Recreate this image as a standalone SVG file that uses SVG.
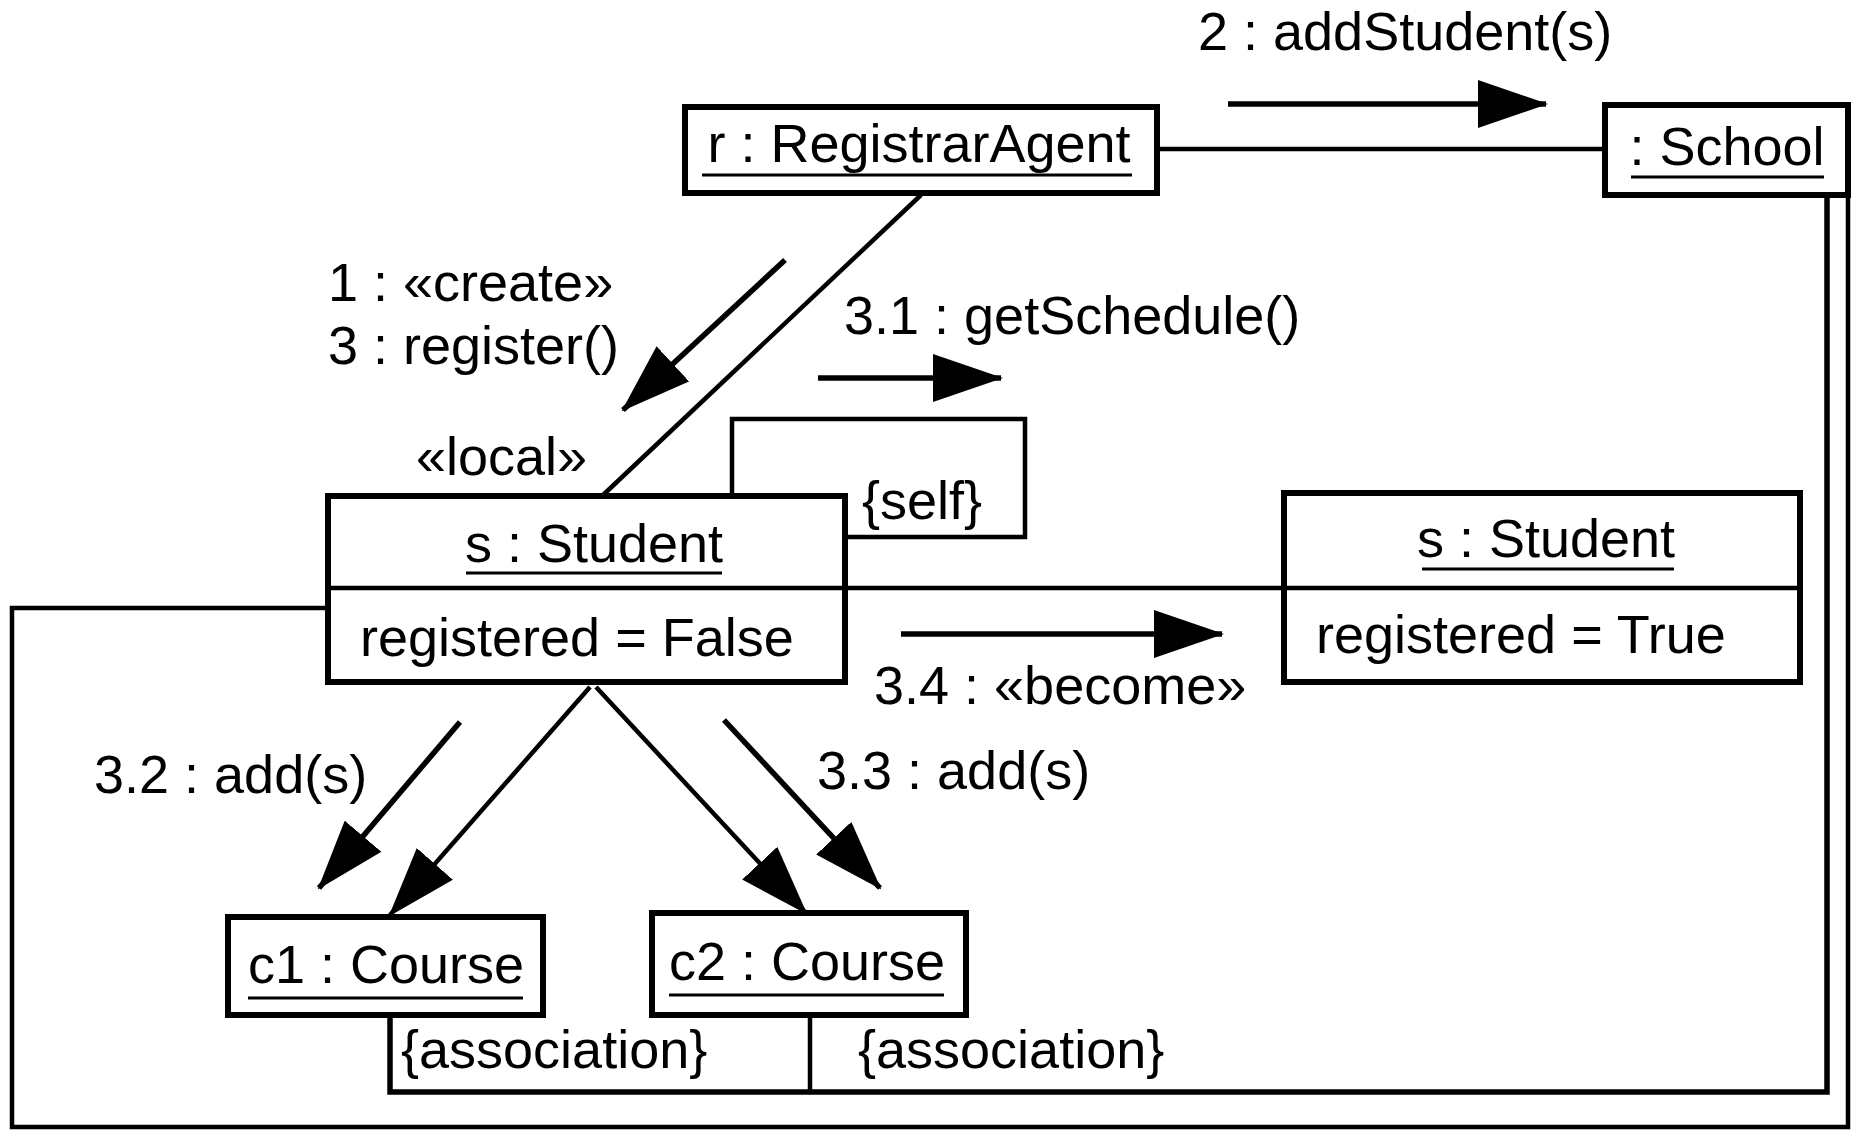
<svg xmlns="http://www.w3.org/2000/svg" width="1851" height="1131" viewBox="0 0 1851 1131">
<style>
  .box { fill: #fff; stroke: #000; stroke-width: 6; }
  .ln { fill: none; stroke: #000; stroke-width: 4.5; }
  .msg { fill: none; stroke: #000; stroke-width: 5.5; marker-end: url(#head); }
  .ul { stroke: #000; stroke-width: 3; }
  text { font-family: "Liberation Sans", Arial, sans-serif; font-size: 54px; fill: #000; }
  .mid { text-anchor: middle; }
</style>
<defs>
  <marker id="head" markerUnits="userSpaceOnUse" viewBox="0 0 70 48" refX="68" refY="24" markerWidth="70" markerHeight="48" orient="auto">
    <path d="M0,0 L70,24 L0,48 z" fill="#000"/>
  </marker>
</defs>
<rect width="1851" height="1131" fill="#fff"/>

<g id="connectors">
  <!-- RegistrarAgent - School -->
  <path class="ln" d="M1157,149 L1605,149"/>
  <!-- RegistrarAgent - Student -->
  <path class="ln" d="M921,195 L602,496"/>
  <!-- self link -->
  <path class="ln" d="M732,496 L732,419 L1025,419 L1025,537 L845,537"/>
  <!-- Student - Student (become) -->
  <path class="ln" d="M845,588 L1284,588"/>
  <!-- Student - c1, Student - c2 -->
  <path class="msg" style="stroke-width:4.5" d="M590,687 L390,915"/>
  <path class="msg" style="stroke-width:4.5" d="M596,687 L806,913"/>
  <!-- c1, c2 associations to School -->
  <path class="ln" style="stroke-width:5.5" d="M390,1015 L390,1092 L1827,1092 L1827,195"/>
  <path class="ln" d="M810,1015 L810,1092"/>
  <!-- outer frame Student - School -->
  <path class="ln" d="M328,608 L12,608 L12,1127 L1848,1127 L1848,195"/>

  <!-- message arrows -->
  <path class="msg" d="M1228,104 L1546,104"/>
  <path class="msg" d="M785,260 L623,410"/>
  <path class="msg" d="M818,378 L1001,378"/>
  <path class="msg" d="M901,634 L1222,634"/>
  <path class="msg" d="M460,722 L319,888"/>
  <path class="msg" d="M724,720 L880,888"/>

  <text x="1198" y="50">2 : addStudent(s)</text>
  <text x="328" y="301">1 : «create»</text>
  <text x="328" y="364">3 : register()</text>
  <text x="844" y="334">3.1 : getSchedule()</text>
  <text x="416" y="475">«local»</text>
  <text x="862" y="519">{self}</text>
  <text x="874" y="704">3.4 : «become»</text>
  <text x="94" y="793">3.2 : add(s)</text>
  <text x="817" y="789">3.3 : add(s)</text>
  <text x="401" y="1068">{association}</text>
  <text x="858" y="1068">{association}</text>
</g>

<g id="registrarAgent">
  <rect class="box" x="685" y="107" width="472" height="86"/>
  <text class="mid" x="919" y="162">r : RegistrarAgent</text>
  <line class="ul" x1="702" y1="175" x2="1132" y2="175"/>
</g>

<g id="school">
  <rect class="box" x="1605" y="105" width="243" height="90"/>
  <text class="mid" x="1727" y="165">: School</text>
  <line class="ul" x1="1631" y1="177" x2="1824" y2="177"/>
</g>

<g id="studentFalse">
  <rect class="box" x="328" y="496" width="517" height="186"/>
  <line class="ul" style="stroke-width:4.5" x1="328" y1="588" x2="845" y2="588"/>
  <text class="mid" x="594" y="562">s : Student</text>
  <line class="ul" x1="466" y1="573" x2="722" y2="573"/>
  <text x="360" y="656">registered = False</text>
</g>

<g id="studentTrue">
  <rect class="box" x="1284" y="493" width="516" height="189"/>
  <line class="ul" style="stroke-width:4.5" x1="1284" y1="588" x2="1800" y2="588"/>
  <text class="mid" x="1546" y="557">s : Student</text>
  <line class="ul" x1="1422" y1="569" x2="1674" y2="569"/>
  <text x="1316" y="653">registered = True</text>
</g>

<g id="c1">
  <rect class="box" x="228" y="917" width="315" height="98"/>
  <text x="248" y="983">c1 : Course</text>
  <line class="ul" x1="248" y1="998" x2="523" y2="998"/>
</g>

<g id="c2">
  <rect class="box" x="652" y="913" width="314" height="102"/>
  <text x="669" y="980">c2 : Course</text>
  <line class="ul" x1="669" y1="995" x2="944" y2="995"/>
</g>
</svg>
